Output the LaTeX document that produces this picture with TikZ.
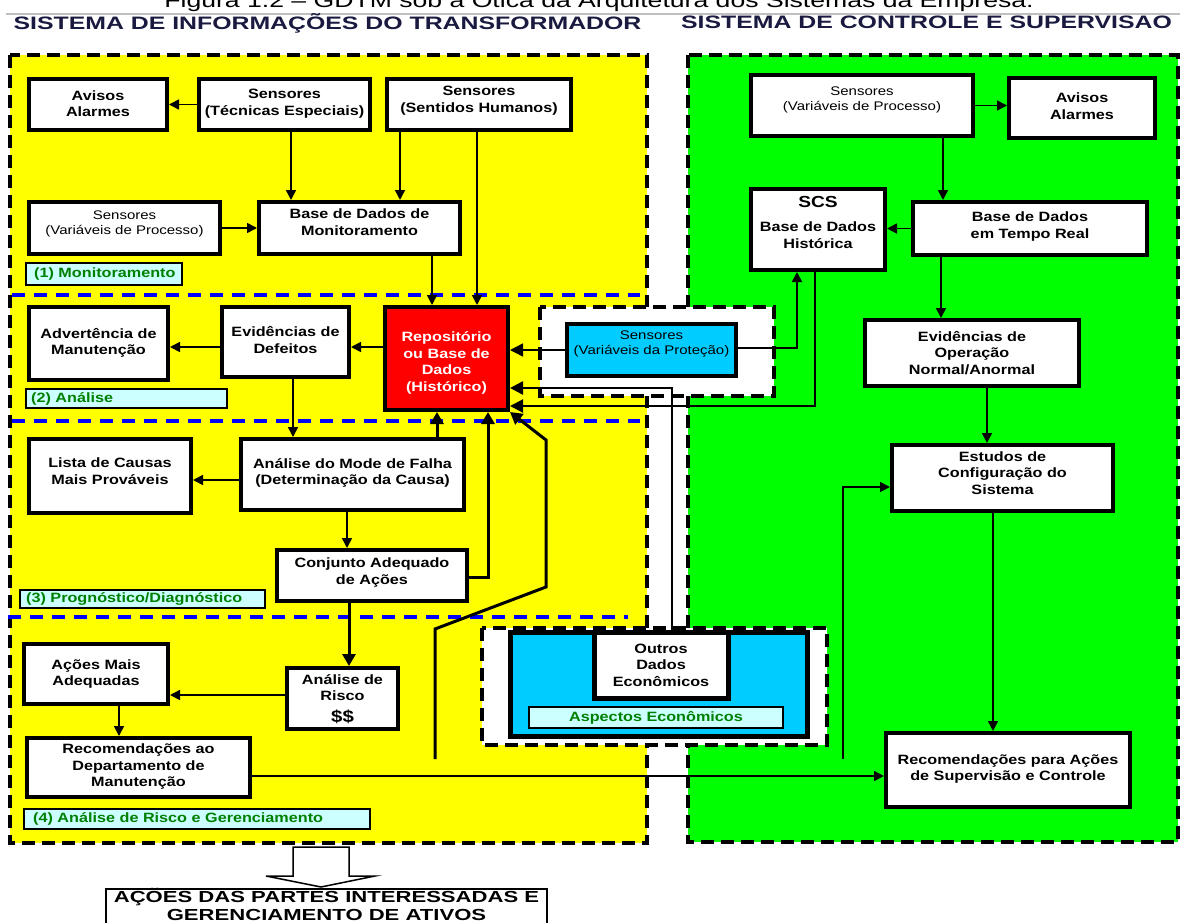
\documentclass[tikz,border=0pt]{standalone}
\usepackage{fontspec}
\setmainfont{Liberation Sans}[FakeStretch=1.2]
\newfontfamily\hdfont{Liberation Sans}[FakeStretch=1.38]
\newfontfamily\ttlfont{Liberation Sans}[FakeStretch=1.33]
\usetikzlibrary{arrows.meta}
\definecolor{yel}{HTML}{FFFF00}
\definecolor{grn}{HTML}{00FF00}
\definecolor{cyb}{HTML}{00CCFF}
\definecolor{labcyan}{HTML}{CCFFFF}
\definecolor{labgreen}{HTML}{008000}
\definecolor{sepblue}{HTML}{0000FF}
\definecolor{hdcol}{HTML}{1A1A40}
\newcommand\mkbox[9]{%
 \node[bx,#1,minimum width={#6-#4-4},minimum height={#7-#5-4}] (#3) at ({(#4+#6)/2},{(#5+#7)/2}) {};
 \node[tx,#2] (#3t) at ({(#4+#6)/2},#8) {#9};}
\begin{document}
\begin{tikzpicture}[x=1pt,y=-1pt,
 bx/.style={draw=black, line width=4pt, fill=white, rectangle, inner sep=0pt},
 tx/.style={align=center, font=\fontsize{13.5}{16.5}\selectfont\bfseries, inner sep=0pt, text=black},
 smalltx/.style={font=\fontsize{12.5}{14.5}\selectfont\mdseries},
 lab/.style={draw=black, line width=1.5pt, fill=labcyan, inner sep=0pt, rectangle},
 labtx/.style={font=\fontsize{13.5}{16}\selectfont\bfseries, text=labgreen, inner sep=0pt, anchor=west},
 region/.style={draw=black, line width=4pt, dash pattern=on 13pt off 7pt},
 sep/.style={draw=sepblue, line width=3.5pt, dash pattern=on 13pt off 9pt},
 arr/.style={line width=1.6pt, -{Triangle[length=10pt,width=10pt]}},
 arrT/.style={line width=3pt, -{Triangle[length=12pt,width=13pt]}},
 arrB/.style={line width=2pt, -{Triangle[length=13pt,width=13pt]}},
 hd/.style={font=\hdfont\bfseries\fontsize{18}{20}\selectfont, text=hdcol, inner sep=0pt, anchor=base}
]
\useasboundingbox (0,0) rectangle (1183,923);
% title and headers
\node[anchor=base, inner sep=0pt, font=\ttlfont\fontsize{20}{24}\selectfont] (title) at (599,7.5) {Figura 1.2 – GDTM sob a Ótica da Arquitetura dos Sistemas da Empresa.};
\draw[black!25, line width=1.2pt] (6,14) -- (1180,14);
\node[hd] (hdL) at (327.5,29.5) {SISTEMA DE INFORMAÇÕES DO TRANSFORMADOR};
\node[hd] (hdR) at (926.5,28.5) {SISTEMA DE CONTROLE E SUPERVISAO};
% regions
\fill[yel] (10,55) rectangle (647,843);
\draw[region] (10,55) rectangle (647,843);
\fill[grn] (688,55) rectangle (1178,842);
\draw[region] (688,55) rectangle (1178,842);
\fill[white] (540,307) rectangle (774,396);
\draw[region] (540,307) rectangle (774,396);
\fill[white] (482,628) rectangle (827,745);
\draw[region] (482,628) rectangle (827,745);
\draw[sep] (12,295) -- (640,295);
\draw[sep] (12,421) -- (640,421);
\draw[sep] (8,617) -- (628,617);
% boxes left
\mkbox{}{}{avL}{27}{77}{169}{132}{103.5}{Avisos\\Alarmes}
\mkbox{}{}{tec}{197}{77}{372}{132}{103.5}{Sensores\\(Técnicas Especiais)}
\mkbox{}{}{hum}{385}{77}{573}{132}{100.5}{Sensores\\(Sentidos Humanos)}
\mkbox{}{smalltx}{svpL}{27}{200}{222}{256}{224}{Sensores\\(Variáveis de Processo)}
\mkbox{}{}{bdm}{257}{200}{462}{256}{222}{Base de Dados de\\Monitoramento}
\mkbox{}{}{adv}{27}{305}{170}{382}{343}{Advertência de\\Manutenção}
\mkbox{}{}{evd}{220}{305}{351}{379}{340}{Evidências de\\Defeitos}
\mkbox{fill=red}{text=white}{repo}{383}{305}{510}{412}{363}{Repositório\\ou Base de\\Dados\\(Histórico)}
\mkbox{}{}{lista}{27}{437}{193}{515}{471}{Lista de Causas\\Mais Prováveis}
\mkbox{}{}{amf}{239}{437}{466}{512}{473}{Análise do Mode de Falha\\(Determinação da Causa)}
\mkbox{}{}{conj}{275}{548}{469}{603}{572.5}{Conjunto Adequado\\de Ações}
\mkbox{}{}{acm}{22}{642}{170}{706}{674}{Ações Mais\\Adequadas}
\mkbox{}{}{risco}{285}{666}{400}{731}{687.5}{Análise de\\Risco}
\node[tx, font=\fontsize{17}{17}\selectfont\bfseries] (cifrao) at (342.5,717) {\$\$};
\mkbox{}{}{recD}{25}{736}{252}{799}{767}{Recomendações ao\\Departamento de\\Manutenção}
% boxes right
\mkbox{}{smalltx}{svpR}{749}{73}{975}{138}{100}{Sensores\\(Variáveis de Processo)}
\mkbox{}{}{avR}{1007}{76}{1157}{140}{106}{Avisos\\Alarmes}
\mkbox{}{}{scs}{749}{187}{887}{272}{235}{Base de Dados\\Histórica}
\node[tx, font=\fontsize{16}{16}\selectfont\bfseries] (scsT) at (818,201.5) {SCS};
\mkbox{}{}{bdtr}{911}{200}{1149}{257}{226.5}{Base de Dados\\em Tempo Real}
\mkbox{}{}{evop}{863}{318}{1081}{388}{352.6}{Evidências de\\Operação\\Normal/Anormal}
\mkbox{}{}{est}{890}{443}{1115}{513}{473}{Estudos de\\Configuração do\\Sistema}
\mkbox{}{}{recS}{884}{731}{1132}{809}{769}{Recomendações para Ações\\de Supervisão e Controle}
\mkbox{fill=cyb}{smalltx}{prot}{565}{322}{738}{378}{344}{Sensores\\(Variáveis da Proteção)}
\node[bx, fill=cyb, line width=5pt, minimum width=297, minimum height=104] (econ) at (659,684.5) {};
\mkbox{line width=5pt}{}{outros}{592}{630}{730}{700}{665}{Outros\\Dados\\Econômicos}
% labels
\node[lab, minimum width=156, minimum height=22] (lab1) at (104,274) {};
\node[labtx] (lab1t) at (34,274) {(1) Monitoramento};
\node[lab, minimum width=201, minimum height=19] (lab2) at (126.5,398.5) {};
\node[labtx] (lab2t) at (31,398.5) {(2) Análise};
\node[lab, minimum width=245, minimum height=18] (lab3) at (142.5,599) {};
\node[labtx] (lab3t) at (26,599) {(3) Prognóstico/Diagnóstico};
\node[lab, minimum width=346, minimum height=20] (lab4) at (197,819) {};
\node[labtx] (lab4t) at (33,819) {(4) Análise de Risco e Gerenciamento};
\node[lab, minimum width=254, minimum height=21] (labE) at (656,717.5) {};
\node[labtx, anchor=center] (labEt) at (656,717.5) {Aspectos Econômicos};
% bottom block arrow and box
\draw[line width=1.5pt, fill=white] (293,847) -- (349,847) -- (349,876) -- (375,876) -- (321,887) -- (266,876) -- (293,876) -- cycle;
\node[draw=black, line width=2pt, fill=white, inner sep=0pt, minimum width=441, minimum height=60] (acB) at (326.5,919) {};
\node[align=center, inner sep=0pt, font=\hdfont\bfseries\fontsize{16}{17.5}\selectfont] (acBt) at (326.5,904.5) {AÇÕES DAS PARTES INTERESSADAS E\\GERENCIAMENTO DE ATIVOS};
% connectors section 1
\draw[arr] (tec.west) -- (avL.east);
\draw[arr] ([xshift=6.5]tec.south) -- ([xshift=6.5]tec.south |- bdm.north);
\draw[arr] ([xshift=-79]hum.south) -- ([xshift=-79]hum.south |- bdm.north);
\draw[arr] ([xshift=-2]hum.south) -- ([xshift=-2]hum.south |- repo.north);
\draw[arr] ([xshift=72.5]bdm.south) -- ([xshift=72.5]bdm.south |- repo.north);
\draw[arr] (svpL.east) -- (bdm.west);
% section 2
\draw[arr] ([yshift=11.5]repo.west) -- ([yshift=11.5]repo.west -| evd.east);
\draw[arr] ([yshift=-5]evd.west) -- ([yshift=-5]evd.west -| adv.east);
\draw[arr] ([xshift=7.5]evd.south) -- ([xshift=7.5]evd.south |- amf.north);
% section 3
\draw[arr] ([yshift=-5.5]amf.west) -- ([yshift=-5.5]amf.west -| lista.east);
\draw[arr] ([xshift=-5.5]amf.south) -- ([xshift=-5.5]amf.south |- conj.north);
\draw[arrT] ([xshift=84.5]amf.north) -- ([xshift=84.5]amf.north |- repo.south);
\draw[arrT] ([yshift=-1.5]conj.east) -| ([xshift=41.5]repo.south);
% section 4
\draw[arrT] ([xshift=-23]conj.south) -- ([xshift=-23]conj.south |- risco.north);
\draw[arr] ([yshift=3.5]risco.west) -- ([yshift=3.5]risco.west -| acm.east);
\draw[arr] ([xshift=23]acm.south) -- ([xshift=23]acm.south |- recD.north);
\draw[arr] ([yshift=-8.5]recD.east) -- ([yshift=-8.5]recD.east -| recS.west);
\coordinate (j1) at (435,759);
\coordinate (b1) at (435,629);
\coordinate (b2) at (546,587);
\coordinate (b3) at (546,440);
\draw[arrT] (j1) -- (b1) -- (b2) -- (b3) -- (repo.south east);
\coordinate (j2) at (843,759);
\draw[arr] (j2) |- ([yshift=-9]est.west);
% right side
\draw[arr] (svpR.east) -- (svpR.east -| avR.west);
\draw[arr] ([xshift=81]svpR.south) -- ([xshift=81]svpR.south |- bdtr.north);
\draw[arr] (bdtr.west) -- (bdtr.west -| scs.east);
\draw[arr] ([xshift=-89]bdtr.south) -- ([xshift=-89]bdtr.south |- evop.north);
\draw[arr] ([xshift=15]evop.south) -- ([xshift=15]evop.south |- est.north);
\draw[arr] ([xshift=-9.5]est.south) -- ([xshift=-9.5]est.south |- recS.north);
% into repository
\draw[arrB, line width=1.4pt] (prot.west) -- (prot.west -| repo.east);
\draw[arr, line width=1.8pt] ([yshift=2]prot.east) -| ([xshift=-21]scs.south);
\draw[arrB] ([xshift=-3]scs.south) |- ([yshift=-47.5]repo.east);
\draw[arrB, line width=2.6pt] ([xshift=11]outros.north) |- ([yshift=-29.5]repo.east);
\end{tikzpicture}
\end{document}
